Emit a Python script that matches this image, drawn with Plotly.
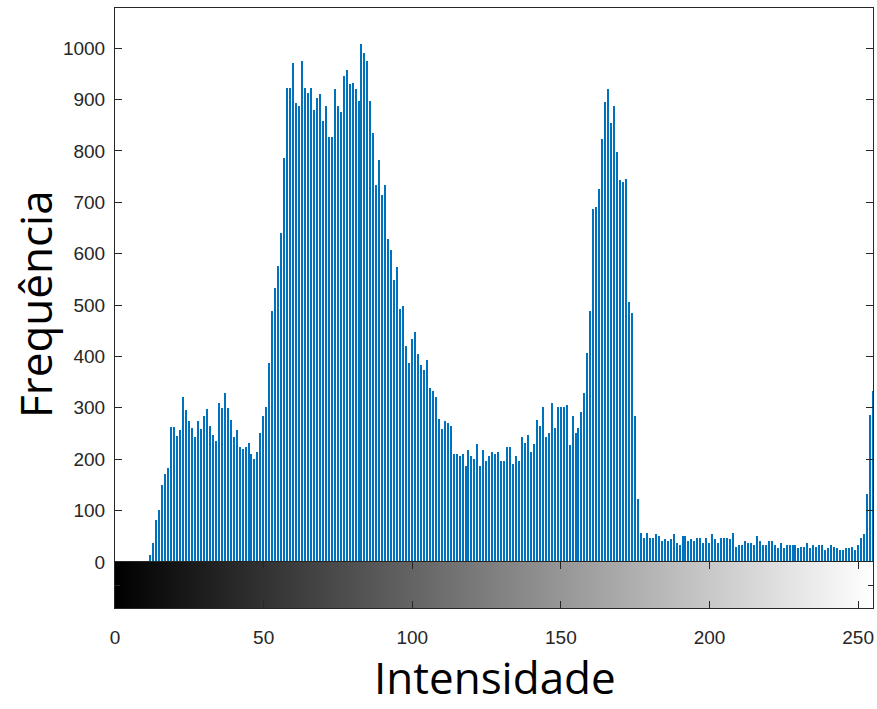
import plotly.graph_objects as go

# Histogram counts (intensity 0..255)
counts_000_011 = [0] * 12
counts_012_035 = [13, 37, 82, 102, 149, 172, 182, 262, 262, 246, 256, 321, 296, 274, 260, 244,
                  274, 258, 284, 298, 264, 248, 236, 309]
counts_036_071 = [299, 329, 299, 276, 244, 256, 224, 219, 224, 231, 211, 200, 214, 251, 284, 301,
                  388, 489, 533, 576, 641, 786, 923, 923, 971, 893, 888, 974, 923, 913, 923, 879,
                  903, 910, 859, 888]
counts_072_107 = [827, 827, 920, 888, 875, 946, 957, 930, 933, 920, 898, 1007, 990, 974, 898, 835,
                  733, 783, 715, 733, 628, 607, 549, 574, 492, 499, 421, 388, 434, 448, 404, 383,
                  373, 394, 339, 333]
counts_108_143 = [321, 278, 258, 274, 271, 264, 210, 210, 207, 210, 187, 218, 207, 200, 230, 187,
                  218, 197, 207, 214, 210, 214, 197, 197, 224, 224, 190, 207, 197, 244, 231, 248,
                  214, 230, 276, 264]
counts_144_178 = [301, 244, 251, 309, 261, 301, 301, 301, 305, 228, 284, 251, 261, 291, 329, 406,
                  488, 687, 691, 726, 823, 895, 920, 855, 888, 798, 743, 739, 746, 505, 485, 284,
                  122, 57, 47]
counts_179_214 = [57, 47, 47, 54, 50, 40, 44, 40, 44, 54, 37, 33, 50, 50, 40, 44, 40, 47, 47, 37,
                  47, 37, 54, 44, 37, 47, 47, 47, 44, 57, 30, 33, 33, 40, 37, 37]
counts_215_255 = [33, 50, 40, 33, 33, 40, 40, 33, 27, 37, 27, 33, 33, 33, 33, 27, 30, 30, 37, 27,
                  33, 30, 33, 33, 23, 27, 33, 30, 27, 23, 23, 27, 27, 30, 23, 33, 47, 54, 132, 287,
                  333]

counts = (counts_000_011 + counts_012_035 + counts_036_071 + counts_072_107 +
          counts_108_143 + counts_144_178 + counts_179_214 + counts_215_255)
intensities = list(range(256))

y_ticks = list(range(0, 1001, 100))
x_ticks = [0, 50, 100, 150, 200, 250]

AX = '#262626'
tickfont = dict(family='Liberation Sans, Arial, sans-serif', size=19, color=AX)
titlefont = dict(family='Open Sans, sans-serif', size=44, color='black')

fig = go.Figure()
fig.add_trace(go.Bar(x=intensities, y=counts, width=0.5,
                     marker=dict(color='#0072BD', line=dict(width=0)),
                     xaxis='x', yaxis='y', showlegend=False))
fig.add_trace(go.Heatmap(z=[intensities], x=intensities, y=[0.5],
                         colorscale=[[0, 'black'], [1, 'white']], zmin=0, zmax=255,
                         showscale=False, xaxis='x2', yaxis='y2', hoverinfo='skip'))

cb_frac = 46 / 600
fig.update_layout(
    width=877, height=709,
    margin=dict(l=115, r=4, t=8, b=101),
    paper_bgcolor='white', plot_bgcolor='white',
    bargap=0,
    xaxis=dict(domain=[0, 1], range=[0, 255], showticklabels=False, ticks='',
               showline=True, linecolor=AX, linewidth=1, mirror=True,
               showgrid=False, zeroline=False, anchor='y'),
    yaxis=dict(domain=[cb_frac, 1], range=[0, 1078], tickvals=y_ticks,
               ticks='inside', ticklen=7, tickcolor=AX, tickfont=tickfont,
               showline=True, linecolor=AX, linewidth=1, mirror='allticks',
               showgrid=False, zeroline=False, anchor='x', ticklabelstandoff=5),
    xaxis2=dict(domain=[0, 1], range=[0, 255], tickvals=x_ticks,
                ticks='inside', ticklen=7, tickcolor=AX, tickfont=tickfont,
                showline=True, linecolor=AX, linewidth=1, mirror='allticks',
                showgrid=False, zeroline=False, anchor='y2', ticklabelstandoff=12),
    yaxis2=dict(domain=[0, cb_frac], range=[0, 1], tickvals=[0.5], ticktext=[''],
                ticks='inside', ticklen=5, tickcolor=AX,
                showline=True, linecolor=AX, linewidth=1, mirror='allticks',
                showgrid=False, zeroline=False, anchor='x2'),
    annotations=[
        dict(text='Frequência', xref='paper', yref='paper', x=(35 - 115) / 758, y=(608 - 304) / 600,
             xanchor='center', yanchor='middle', textangle=-90, showarrow=False,
             font=titlefont),
        dict(text='Intensidade', xref='paper', yref='paper', x=(495 - 115) / 758, y=(608 - 677) / 600,
             xanchor='center', yanchor='middle', showarrow=False,
             font=titlefont),
    ],
)

fig.write_html('out.html', config={'displayModeBar': False},
               post_script="document.body.style.margin='0px';")
